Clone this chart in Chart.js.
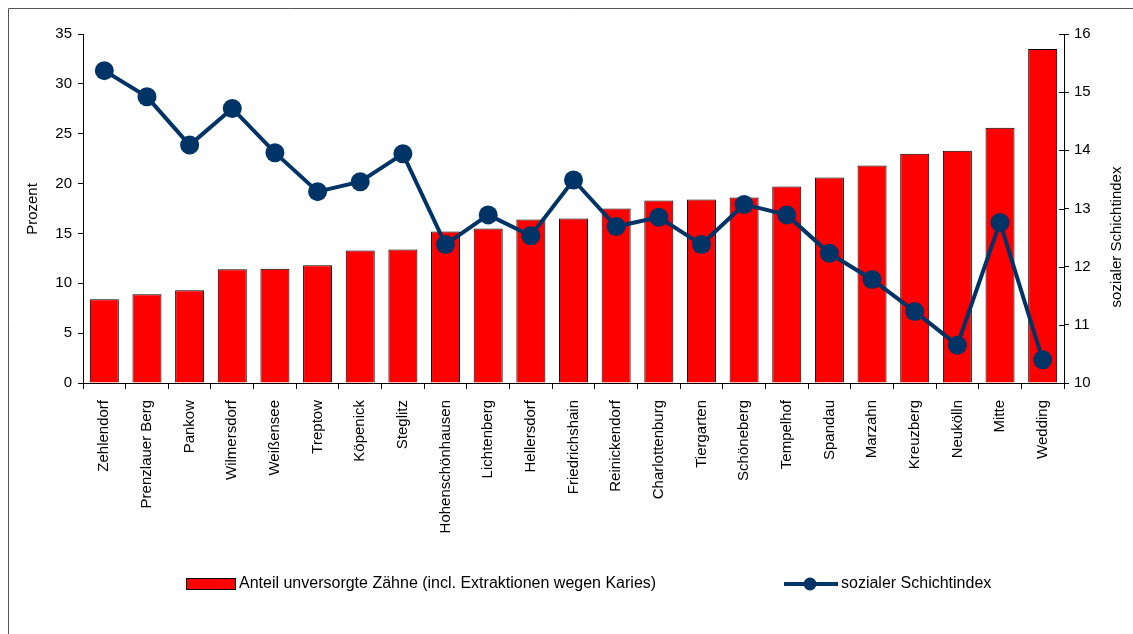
<!DOCTYPE html>
<html lang="de">
<head>
<meta charset="utf-8">
<title>Unversorgte Zähne und sozialer Schichtindex</title>
<script src="https://cdn.jsdelivr.net/npm/chart.js@4/dist/chart.umd.min.js"></script>
<style>
  body { margin: 0; background: #fff; }
  canvas { display: block; }
</style>
</head>
<body>
<canvas id="chartBezirke" width="1133" height="634"></canvas>
<script>
// Bezirke, sortiert nach Anteil unversorgter Zähne
const bezirke = ['Zehlendorf', 'Prenzlauer Berg', 'Pankow', 'Wilmersdorf', 'Weißensee', 'Treptow',
  'Köpenick', 'Steglitz', 'Hohenschönhausen', 'Lichtenberg', 'Hellersdorf', 'Friedrichshain',
  'Reinickendorf', 'Charlottenburg', 'Tiergarten', 'Schöneberg', 'Tempelhof', 'Spandau',
  'Marzahn', 'Kreuzberg', 'Neukölln', 'Mitte', 'Wedding']

const anteilUnversorgt = [8.4, 8.9, 9.3, 11.4, 11.45, 11.8, 13.3, 13.4, 15.2, 15.5, 16.4, 16.5,
  17.5, 18.3, 18.4, 18.6, 19.7, 20.6, 21.8, 23.0, 23.3, 25.6, 33.5]

const schichtindex = [15.37, 14.92, 14.09, 14.72, 13.96, 13.29, 13.46, 13.94, 12.38, 12.89, 12.53, 13.49,
  12.69, 12.85, 12.38, 13.07, 12.89, 12.23, 11.78, 11.23, 10.65, 12.76, 10.40]

const prozentTicks = [0, 5, 10, 15, 20, 25, 30, 35]
const indexTicks = [10, 11, 12, 13, 14, 15, 16]

const rot = '#ff0000'
const dunkelblau = '#003366'
const schrift = '"Liberation Sans", Arial, sans-serif'

Chart.defaults.font.family = schrift
Chart.defaults.font.size = 15
Chart.defaults.color = '#000'

// Rahmen, Achsentitel und Legende werden von Hand gezeichnet
const extras = {
  id: 'extras',
  beforeDraw(chart) {
    const c = chart.ctx
    c.save()
    c.fillStyle = '#fff'
    c.fillRect(0, 0, chart.width, chart.height)
    c.strokeStyle = '#555'
    c.lineWidth = 1
    c.beginPath()
    c.moveTo(8.5, chart.height)
    c.lineTo(8.5, 8.5)
    c.lineTo(chart.width, 8.5)
    c.stroke()
    c.restore()
  },
  afterDraw(chart) {
    const c = chart.ctx
    const area = chart.chartArea
    c.save()
    c.fillStyle = '#000'
    c.font = '15px ' + schrift
    c.textAlign = 'center'
    c.textBaseline = 'middle'

    // Achsentitel
    c.save()
    c.translate(33, 209)
    c.rotate(-Math.PI / 2)
    c.fillText('Prozent', 0, 0)
    c.restore()

    c.save()
    c.translate(1117, 237)
    c.rotate(-Math.PI / 2)
    c.fillText('sozialer Schichtindex', 0, 0)
    c.restore()

    // Legende
    const balken = chart.data.datasets[1]
    const linie = chart.data.datasets[0]
    const ly = 584
    c.font = '16px ' + schrift
    c.fillStyle = rot
    c.fillRect(186, ly - 6, 50, 12)
    c.strokeStyle = '#000'
    c.lineWidth = 1
    c.strokeRect(186.5, ly - 5.5, 49, 11)
    c.fillStyle = '#000'
    c.textAlign = 'left'
    c.fillText(balken.label, 239, ly)

    c.strokeStyle = dunkelblau
    c.lineWidth = 4
    c.beginPath()
    c.moveTo(784, ly)
    c.lineTo(838, ly)
    c.stroke()
    c.fillStyle = dunkelblau
    c.beginPath()
    c.arc(810, ly, 6.5, 0, Math.PI * 2)
    c.fill()
    c.fillStyle = '#000'
    c.fillText(linie.label, 841, ly)

    // Teilstriche der rechten Achse auch nach innen
    const y1 = chart.scales.y1
    c.strokeStyle = '#000'
    c.lineWidth = 1
    indexTicks.forEach(function (t) {
      const py = Math.round(y1.getPixelForValue(t)) + 0.5
      c.beginPath()
      c.moveTo(area.right - 5, py)
      c.lineTo(area.right, py)
      c.stroke()
    })
    c.restore()
  }
}

new Chart(document.getElementById('chartBezirke'), {
  type: 'bar',
  data: {
    labels: bezirke,
    datasets: [{
      type: 'line',
      label: 'sozialer Schichtindex',
      data: schichtindex,
      yAxisID: 'y1',
      borderColor: dunkelblau,
      backgroundColor: dunkelblau,
      borderWidth: 4,
      pointRadius: 9.5,
      pointBorderWidth: 0,
      pointBackgroundColor: dunkelblau,
      tension: 0,
      order: 0
    }, {
      label: 'Anteil unversorgte Zähne (incl. Extraktionen wegen Karies)',
      data: anteilUnversorgt,
      yAxisID: 'y',
      backgroundColor: rot,
      borderColor: '#000',
      borderWidth: 1,
      barPercentage: 0.68,
      categoryPercentage: 1,
      order: 1
    }]
  },
  options: {
    responsive: false,
    animation: false,
    layout: { padding: { top: 34, left: 0, right: 0, bottom: 0 } },
    plugins: {
      legend: { display: false },
      tooltip: { enabled: false }
    },
    scales: {
      x: {
        grid: { offset: true, drawOnChartArea: false, tickLength: 6, color: '#000' },
        border: { color: '#000' },
        ticks: { autoSkip: false, minRotation: 90, maxRotation: 90, padding: 11 },
        afterFit: function (s) { s.height = 251 }
      },
      y: {
        position: 'left',
        min: 0,
        max: 35,
        afterBuildTicks: function (s) { s.ticks = prozentTicks.map(v => ({ value: v })) },
        grid: { drawOnChartArea: false, tickLength: 5, color: '#000' },
        border: { color: '#000' },
        ticks: { padding: 6 },
        afterFit: function (s) { s.width = 83 }
      },
      y1: {
        position: 'right',
        min: 10,
        max: 16,
        afterBuildTicks: function (s) { s.ticks = indexTicks.map(v => ({ value: v })) },
        grid: { drawOnChartArea: false, tickLength: 5, color: '#000' },
        border: { color: '#000' },
        ticks: { padding: 5 },
        afterFit: function (s) { s.width = 69 }
      }
    }
  },
  plugins: [extras]
})
</script>
</body>
</html>
